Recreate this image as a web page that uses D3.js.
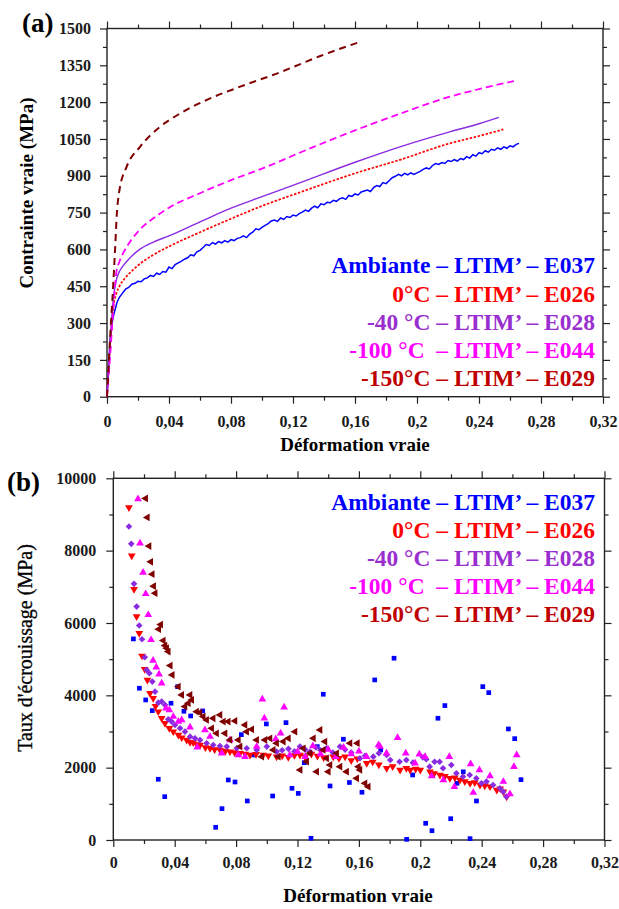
<!DOCTYPE html>
<html>
<head>
<meta charset="utf-8">
<script src="https://cdn.jsdelivr.net/npm/d3@7"></script>
<style>
body { margin: 0; background: #fff; }
text { font-family: "Liberation Serif", "DejaVu Serif", serif; }
</style>
</head>
<body>
<svg id="fig" width="619" height="909"></svg>
<script>

// ---- tick values ----
var strainTicks = [0, 0.04, 0.08, 0.12, 0.16, 0.2, 0.24, 0.28, 0.32];
var stressTicks = [0, 150, 300, 450, 600, 750, 900, 1050, 1200, 1350, 1500];
var rateTicks = [0, 2000, 4000, 6000, 8000, 10000];

// ---- legend ----
var seriesNames = ["Ambiante – LTIM’ – E037", "0°C – LTIM’ – E026", "-40 °C – LTIM’ – E028",
                   "-100 °C  – LTIM’ – E044", "-150°C – LTIM’ – E029"];
var legendColors = ["#0000ff", "#ff0000", "#9a2fd0", "#ff00ff", "#c00000"];
var seriesColors = ["#0000ff", "#ff0000", "#8a2be2", "#ff00ff", "#800000"];

// ---- (a) true stress / true strain curves ----
var curveAmb = [[0,0],[0.001,120],[0.002,230],[0.003,290],[0.004,325],[0.005,350],[0.0065,385],[0.008,405],[0.010,422],[0.012,438],[0.014,445],[0.016,458],[0.018,462],[0.020,470],[0.022,468],[0.024,480],[0.026,484],[0.028,494],[0.030,490],[0.032,503],[0.034,498],[0.036,510],[0.038,507],[0.040,528],[0.042,522],[0.044,538],[0.046,545],[0.048,552],[0.050,560],[0.052,566],[0.054,578],[0.056,574],[0.058,590],[0.060,596],[0.062,608],[0.064,620],[0.066,616],[0.068,628],[0.070,622],[0.072,632],[0.074,627],[0.076,636],[0.078,630],[0.080,640],[0.082,636],[0.084,645],[0.086,648],[0.088,655],[0.090,648],[0.092,662],[0.094,670],[0.096,684],[0.098,680],[0.100,690],[0.102,698],[0.104,705],[0.106,716],[0.108,720],[0.110,714],[0.112,728],[0.114,722],[0.116,734],[0.118,730],[0.120,740],[0.122,736],[0.124,746],[0.126,752],[0.128,760],[0.130,755],[0.132,768],[0.134,776],[0.136,770],[0.138,786],[0.140,782],[0.142,792],[0.144,790],[0.146,800],[0.148,796],[0.150,806],[0.152,810],[0.154,804],[0.156,820],[0.158,816],[0.160,826],[0.162,822],[0.164,834],[0.166,838],[0.168,842],[0.170,836],[0.172,852],[0.174,860],[0.176,856],[0.178,872],[0.180,868],[0.182,880],[0.184,892],[0.186,898],[0.188,906],[0.190,900],[0.192,910],[0.194,904],[0.196,912],[0.198,906],[0.200,912],[0.202,918],[0.204,926],[0.206,932],[0.208,928],[0.210,942],[0.212,950],[0.214,946],[0.216,954],[0.218,950],[0.220,962],[0.222,958],[0.224,966],[0.226,960],[0.228,970],[0.230,966],[0.232,978],[0.234,972],[0.236,986],[0.238,980],[0.240,994],[0.242,990],[0.244,1002],[0.246,996],[0.248,1008],[0.250,1004],[0.252,1014],[0.254,1008],[0.256,1018],[0.258,1012],[0.260,1022],[0.262,1018],[0.264,1028],[0.2658,1032]];
var curve0 = [[0,0],[0.002,210],[0.004,360],[0.006,420],[0.008,450],[0.0116,483],[0.016,512],[0.02,535],[0.03,578],[0.04,612],[0.06,670],[0.08,725],[0.1,777],[0.1247,833],[0.16,910],[0.19,967],[0.22,1030],[0.24,1062],[0.2557,1089]];
var curve40 = [[0,0],[0.002,220],[0.004,395],[0.006,475],[0.008,510],[0.01,530],[0.014,560],[0.02,595],[0.03,630],[0.04,655],[0.06,712],[0.08,768],[0.1,815],[0.1247,872],[0.16,955],[0.19,1020],[0.22,1077],[0.24,1112],[0.2528,1138]];
var curve100 = [[0,0],[0.002,163],[0.004,353],[0.0052,450],[0.006,505],[0.008,550],[0.01,580],[0.0127,610],[0.016,642],[0.02,672],[0.024,698],[0.028,718],[0.034,745],[0.04,770],[0.06,829],[0.08,882],[0.1032,937],[0.1247,995],[0.16,1085],[0.19,1155],[0.22,1220],[0.24,1253],[0.2625,1286]];
var curve150 = [[0,0],[0.002,240],[0.004,455],[0.0052,598],[0.0063,740],[0.008,840],[0.0127,937],[0.0213,1018],[0.0343,1100],[0.0472,1154],[0.0644,1209],[0.0859,1263],[0.1118,1322],[0.1247,1355],[0.1376,1388],[0.1635,1446]];

// ---- (b) work hardening rate ----
var rateAmb = [[0.0131,5560],[0.017,4196],[0.0211,3873],[0.0254,3577],[0.0293,1679],[0.0335,1198],[0.0376,3781],[0.0419,4240],[0.046,3559],[0.0504,3430],[0.0582,3568],[0.0667,351],[0.0708,866],[0.0749,1660],[0.0793,1604],[0.0834,2913],[0.0873,1079],[0.0915,2351],[0.0997,3209],[0.1038,1217],[0.1125,3245],[0.1164,1430],[0.1205,1289],[0.1244,2138],[0.1288,47],[0.1329,2581],[0.1368,4030],[0.1412,1494],[0.1499,2786],[0.1538,1590],[0.162,1320],[0.1703,4426],[0.1742,2490],[0.1829,5026],[0.1911,19],[0.195,1798],[0.2035,462],[0.2076,257],[0.2115,3366],[0.216,3716],[0.2198,589],[0.2239,1568],[0.228,1886],[0.2324,37],[0.2366,1079],[0.2407,4240],[0.2446,4074],[0.2574,3070],[0.2615,2802],[0.2656,1668]];
var rate0 = [[0.0102,9192],[0.012,7856],[0.0135,6934],[0.0152,6177],[0.0169,5717],[0.0187,5090],[0.0205,4722],[0.0222,4426],[0.0239,4058],[0.026,3920],[0.0275,3700],[0.0293,3549],[0.0315,3365],[0.0337,3227],[0.0365,3089],[0.0391,2996],[0.0424,2905],[0.0446,2830],[0.0478,2766],[0.05,2700],[0.0521,2692],[0.0545,2640],[0.0565,2628],[0.06,2560],[0.063,2536],[0.066,2500],[0.0695,2490],[0.073,2460],[0.076,2443],[0.079,2420],[0.0825,2397],[0.086,2380],[0.0891,2351],[0.093,2370],[0.0977,2351],[0.101,2330],[0.1064,2304],[0.11,2330],[0.114,2290],[0.118,2340],[0.1216,2351],[0.125,2300],[0.129,2380],[0.133,2320],[0.137,2280],[0.1433,2304],[0.147,2260],[0.151,2300],[0.155,2200],[0.159,2250],[0.1651,2120],[0.169,2160],[0.173,2080],[0.1781,1983],[0.182,2030],[0.1868,1936],[0.1909,1983],[0.1934,1936],[0.197,1960],[0.2,1936],[0.2063,1890],[0.209,1840],[0.2128,1798],[0.216,1760],[0.2193,1706],[0.2225,1720],[0.2258,1660],[0.229,1620],[0.2324,1568],[0.2355,1590],[0.2389,1521],[0.242,1500],[0.2454,1475],[0.2498,1383],[0.252,1420],[0.2541,1337],[0.2563,1198]];
var rate40 = [[0.0102,8667],[0.0117,8188],[0.0135,7082],[0.0152,6454],[0.0169,5929],[0.0187,5551],[0.0205,5053],[0.0217,4702],[0.0235,4611],[0.0254,4379],[0.0272,4102],[0.0293,3798],[0.0315,3826],[0.0337,3734],[0.0358,3338],[0.038,3273],[0.0402,3181],[0.0435,3089],[0.0467,2996],[0.05,2858],[0.0532,2812],[0.0565,2766],[0.0608,2675],[0.0651,2628],[0.0695,2600],[0.0739,2582],[0.0804,2536],[0.0869,2536],[0.0934,2490],[0.1,2582],[0.1064,2443],[0.11,2480],[0.1141,2520],[0.118,2450],[0.1216,2582],[0.125,2500],[0.1281,2440],[0.132,2560],[0.135,2480],[0.139,2536],[0.143,2420],[0.1477,2582],[0.151,2500],[0.155,2420],[0.1607,2260],[0.164,2330],[0.1694,2304],[0.173,2400],[0.1781,2351],[0.1804,2213],[0.1865,2163],[0.1909,2213],[0.1952,2139],[0.2017,2286],[0.2039,2231],[0.2061,2028],[0.2093,2163],[0.2126,2163],[0.2148,1983],[0.2202,2075],[0.2235,1845],[0.2278,1752],[0.2322,1798],[0.2365,1706],[0.2398,1568],[0.2431,1614],[0.2474,1521],[0.2518,1430],[0.254,1337],[0.2561,1198]];
var rate100 = [[0.0161,9425],[0.0174,8207],[0.0194,7394],[0.0211,6805],[0.0228,6224],[0.0246,5533],[0.0259,4960],[0.028,4777],[0.0298,4583],[0.0315,4334],[0.0343,3642],[0.0365,3596],[0.0391,3411],[0.0424,3273],[0.0446,3319],[0.05,3116],[0.0547,2564],[0.0597,3043],[0.063,2858],[0.0706,2397],[0.076,2766],[0.0815,2351],[0.0858,2304],[0.0934,2582],[0.0971,3891],[0.0984,3365],[0.1058,2794],[0.109,2950],[0.1113,3670],[0.115,2350],[0.12,2440],[0.125,2300],[0.13,2600],[0.135,2380],[0.14,2500],[0.145,2300],[0.15,2560],[0.155,2380],[0.16,2450],[0.165,2300],[0.1728,2628],[0.1738,2582],[0.178,2400],[0.1852,2830],[0.1905,2397],[0.1966,2122],[0.1994,2370],[0.2031,2304],[0.2074,1770],[0.215,1660],[0.2189,2304],[0.2222,1475],[0.2328,2102],[0.2345,1310],[0.2385,1936],[0.2454,1770],[0.2541,1614],[0.2584,1272],[0.261,2028],[0.2628,2351]];
var rate150 = [[0.0211,9442],[0.0222,8917],[0.0233,8125],[0.0244,7690],[0.0254,7350],[0.0263,7018],[0.0273,6824],[0.0296,5828],[0.0309,5956],[0.0326,5513],[0.0337,5375],[0.0348,5302],[0.0358,5209],[0.0371,4822],[0.0384,4564],[0.0424,4240],[0.0446,4011],[0.0467,3688],[0.0489,3781],[0.05,4011],[0.0511,3873],[0.0543,3549],[0.0565,3522],[0.0586,3411],[0.0608,3319],[0.0641,3089],[0.0651,3365],[0.0673,2950],[0.0695,3457],[0.0717,3273],[0.0728,2950],[0.0749,3273],[0.076,2766],[0.0793,3292],[0.0815,2766],[0.0826,2582],[0.0858,3181],[0.0869,2996],[0.0902,3061],[0.0934,2766],[0.0967,2304],[0.0988,2766],[0.1021,2812],[0.1042,2490],[0.1064,2675],[0.1075,2304],[0.1108,2720],[0.1141,2812],[0.1184,2996],[0.1217,1936],[0.1238,2536],[0.126,2167],[0.1281,2397],[0.1304,2812],[0.1325,1890],[0.1347,3043],[0.1368,2490],[0.1379,2720],[0.139,2260],[0.1401,1890],[0.1412,2075],[0.1455,2397],[0.1477,2028],[0.152,1890],[0.1542,2675],[0.1586,1706],[0.159,2675],[0.1597,2028],[0.1607,1936],[0.164,1568],[0.1661,1475]];

var svg = d3.select("#fig");

var xA = d3.scaleLinear().domain([0, 0.32]).range([107, 603]),
    yA = d3.scaleLinear().domain([0, 1500]).range([396.7, 28.5]),
    xB = d3.scaleLinear().domain([0, 0.32]).range([113.3, 604.5]),
    yB = d3.scaleLinear().domain([0, 10000]).range([840, 478.3]);

var fmtStrain = function (d) { return String(+d.toFixed(2)).replace(".", ","); };

var midpoints = function (ticks) {
    var m = [];
    for (var i = 0; i < ticks.length - 1; i++) m.push((ticks[i] + ticks[i + 1]) / 2);
    return m;
};

// box with ticks on all four sides, labels bottom and left only
var drawFrame = function (x, y, yTicks, xPad, yPad) {
    var g = svg.append("g");
    var xr = x.range(), yr = y.range();
    var sides = [
        [d3.axisBottom, x, strainTicks, "translate(0," + yr[0] + ")", fmtStrain, xPad],
        [d3.axisTop, x, strainTicks, "translate(0," + yr[1] + ")", null, 0],
        [d3.axisLeft, y, yTicks, "translate(" + xr[0] + ",0)", d3.format("d"), yPad],
        [d3.axisRight, y, yTicks, "translate(" + xr[1] + ",0)", null, 0]
    ];
    sides.forEach(function (s) {
        var major = s[0](s[1]).tickValues(s[2]).tickSize(7).tickSizeOuter(0).tickPadding(s[5])
            .tickFormat(s[4] || function () { return ""; });
        var minor = s[0](s[1]).tickValues(midpoints(s[2])).tickSize(4).tickSizeOuter(0)
            .tickFormat(function () { return ""; });
        g.append("g").attr("transform", s[3]).call(minor);
        g.append("g").attr("transform", s[3]).call(major);
    });
    g.selectAll(".domain").remove();
    g.selectAll(".tick line").attr("stroke", "#222").attr("stroke-width", 1.2);
    g.selectAll(".tick text").attr("font-size", 16).attr("font-weight", "bold")
        .attr("fill", "#1a1a1a").attr("font-family", "Liberation Serif, serif");
    g.append("rect")
        .attr("x", xr[0]).attr("y", yr[1])
        .attr("width", xr[1] - xr[0]).attr("height", yr[0] - yr[1])
        .attr("fill", "none").attr("stroke", "#222").attr("stroke-width", 1.4);
};

var drawLegend = function (xRight, yFirst, step) {
    svg.append("g").selectAll("text")
        .data(seriesNames)
        .enter()
        .append("text")
        .attr("x", xRight)
        .attr("y", function (d, i) { return yFirst + i * step; })
        .attr("text-anchor", "end")
        .attr("font-size", 23.5)
        .attr("font-weight", "bold")
        .style("white-space", "pre")
        .attr("fill", function (d, i) { return legendColors[i]; })
        .text(function (d) { return d; });
};

// ================= (a) =================
drawFrame(xA, yA, stressTicks, 12, 9);

var curves = [
    {data: curveAmb, dash: null, w: 1.5, curve: d3.curveLinear},
    {data: curve0, dash: "2.5,1.6", w: 1.7, curve: d3.curveMonotoneX},
    {data: curve40, dash: null, w: 1.4, curve: d3.curveMonotoneX},
    {data: curve100, dash: "7,4", w: 1.8, curve: d3.curveMonotoneX},
    {data: curve150, dash: "7,5", w: 2, curve: d3.curveMonotoneX}
];

svg.append("g").selectAll("path")
    .data(curves)
    .enter()
    .append("path")
    .attr("fill", "none")
    .attr("stroke", function (d, i) { return seriesColors[i]; })
    .attr("stroke-width", function (d) { return d.w; })
    .attr("stroke-dasharray", function (d) { return d.dash; })
    .attr("d", function (d) {
        return d3.line().curve(d.curve)
            .x(function (p) { return xA(p[0]); })
            .y(function (p) { return yA(p[1]); })(d.data);
    });

drawLegend(595, 273.3, 28.2);

svg.append("text").attr("x", 22).attr("y", 32).attr("font-size", 27).attr("font-weight", "bold").text("(a)");
svg.append("text").attr("x", 355).attr("y", 451).attr("text-anchor", "middle")
    .attr("font-size", 19).attr("font-weight", "bold").text("Déformation vraie");
svg.append("text").attr("transform", "translate(33,193) rotate(-90)").attr("text-anchor", "middle")
    .attr("font-size", 19).attr("font-weight", "bold").text("Contrainte vraie (MPa)");

// ================= (b) =================
drawFrame(xB, yB, rateTicks, 10, 10);

var scatter = [
    {data: rateAmb, type: d3.symbolSquare, size: 22, rot: 0},
    {data: rate0, type: d3.symbolTriangle, size: 26, rot: 180},
    {data: rate40, type: d3.symbolSquare, size: 22, rot: 45},
    {data: rate100, type: d3.symbolTriangle, size: 26, rot: 0},
    {data: rate150, type: d3.symbolTriangle, size: 26, rot: -90}
];

scatter.forEach(function (s, k) {
    var sym = d3.symbol().type(s.type).size(s.size);
    svg.append("g").selectAll("path")
        .data(s.data)
        .enter()
        .append("path")
        .attr("d", sym)
        .attr("fill", seriesColors[k])
        .attr("transform", function (d) {
            return "translate(" + xB(d[0]) + "," + yB(d[1]) + ") rotate(" + s.rot + ")";
        });
});

drawLegend(595, 510, 27.9);

svg.append("text").attr("x", 7).attr("y", 491).attr("font-size", 27).attr("font-weight", "bold").text("(b)");
svg.append("text").attr("x", 358).attr("y", 902).attr("text-anchor", "middle")
    .attr("font-size", 19).attr("font-weight", "bold").text("Déformation vraie");
svg.append("text").attr("transform", "translate(32,648) rotate(-90)").attr("text-anchor", "middle")
    .attr("font-size", 20).attr("stroke", "#000").attr("stroke-width", 0.3)
    .text("Taux d'écrouissage (MPa)");

</script>
</body>
</html>
